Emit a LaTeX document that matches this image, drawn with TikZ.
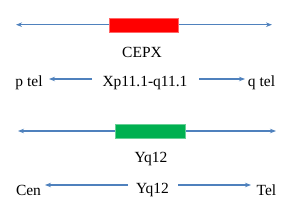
\documentclass[tikz,border=0pt]{standalone}
\usepackage{fontspec}
\setmainfont{Liberation Serif}
\usetikzlibrary{arrows.meta}
\definecolor{lineblue}{HTML}{4F81BD}
\definecolor{boxred}{HTML}{FF0000}
\definecolor{boxgreen}{HTML}{00B050}
\begin{document}
\begin{tikzpicture}[x=1pt,y=-1pt,
  conn/.style={draw=lineblue,line width=1.1pt,-{Stealth[length=6pt,width=4.5pt]}},
  dconn/.style={draw=lineblue,line width=1.1pt,{Stealth[length=6pt,width=4.5pt]}-{Stealth[length=6pt,width=4.5pt]}},
  lbl/.style={font=\fontsize{15.5}{18}\selectfont,inner sep=0pt,text=black},
  band/.style={minimum width=69pt,minimum height=13.5pt,inner sep=0pt,line width=0.4pt}]
\useasboundingbox (0,0) rectangle (300,219);
% top chromosome line
\coordinate (t1l) at (16,24.7);
\coordinate (t1r) at (272,24.7);
\draw[dconn] (t1l) -- (t1r);
\node[band,fill=boxred,draw=boxred!60!white] (cepxbox) at (143.5,25) {};
\node[lbl] (cepx) at (142,52) {CEPX};
% row 2
\node[lbl] (ptel) at (29,83) {p tel};
\node[lbl] (xp) at (145,83) {Xp11.1-q11.1};
\node[lbl] (qtel) at (261.5,83) {q tel};
\coordinate (a1s) at (92,79);
\coordinate (a1e) at (49,79);
\coordinate (a2s) at (199,79);
\coordinate (a2e) at (245,79);
\draw[conn] (a1s) -- (a1e);
\draw[conn] (a2s) -- (a2e);
% bottom chromosome line
\coordinate (t2l) at (18,131);
\coordinate (t2r) at (276,131);
\draw[dconn] (t2l) -- (t2r);
\node[band,fill=boxgreen,draw=boxgreen!60!white,minimum width=70pt] (yqbox) at (150,131) {};
\node[lbl] (yq) at (151,159) {Yq12};
% row 4
\node[lbl] (cen) at (28.5,190) {Cen};
\node[lbl] (yq2) at (152.5,190) {Yq12};
\node[lbl] (tel) at (266.5,190) {Tel};
\coordinate (b1s) at (128,185);
\coordinate (b1e) at (45,185);
\coordinate (b2s) at (178,185);
\coordinate (b2e) at (251,185);
\draw[conn] (b1s) -- (b1e);
\draw[conn] (b2s) -- (b2e);
\end{tikzpicture}
\end{document}
